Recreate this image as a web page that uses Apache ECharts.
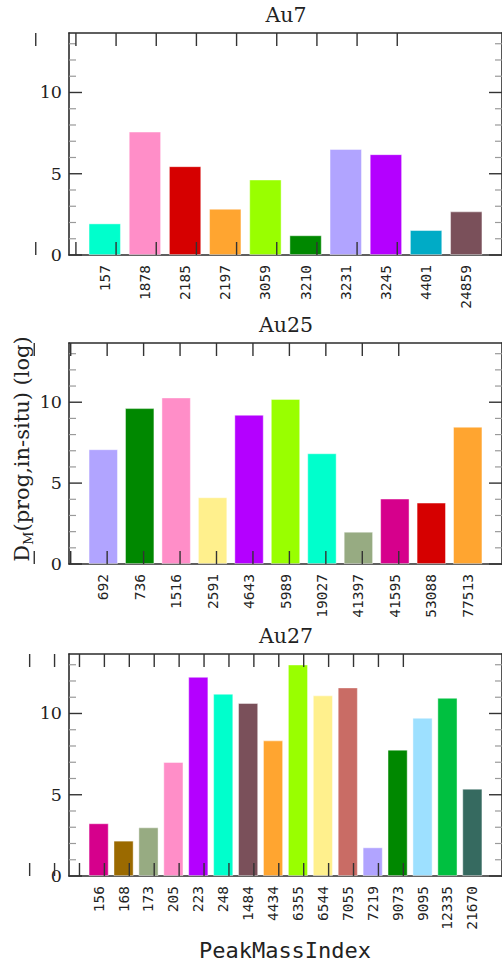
<!DOCTYPE html>
<html>
<head>
<meta charset="utf-8">
<script src="https://cdn.jsdelivr.net/npm/echarts@6/dist/echarts.min.js"></script>
<style>
html,body{margin:0;padding:0;background:#fff;}
#chart{width:502px;height:968px;}
</style>
</head>
<body>
<div id="chart"></div>
<script>
// ---- data ----
const panelTitles = ['Au7', 'Au25', 'Au27'];

const cats1 = ['157','1878','2185','2197','3059','3210','3231','3245','4401','24859'];
const vals1 = [1.94, 7.59, 5.46, 2.84, 4.64, 1.21, 6.52, 6.20, 1.53, 2.68];
const colors1 = ['#00ffcc','#ff8ec8','#d60000','#ffa530','#99ff00','#008800','#b1a4ff','#b400ff','#00abc6','#7a505a'];

const cats2 = ['692','736','1516','2591','4643','5989','19027','41397','41595','53088','77513'];
const vals2 = [7.09, 9.63, 10.29, 4.12, 9.22, 10.20, 6.84, 1.99, 4.04, 3.79, 8.48];
const colors2 = ['#b1a4ff','#008800','#ff8ec8','#fff08d','#b400ff','#99ff00','#00ffcc','#97ab82','#d6008c','#d60000','#ffa530'];

const cats3 = ['156','168','173','205','223','248','1484','4434','6355','6544','7055','7219','9073','9095','12335','21670'];
const vals3 = [3.24, 2.17, 2.99, 7.01, 12.25, 11.21, 10.64, 8.34, 13.01, 11.11, 11.60, 1.76, 7.77, 9.73, 10.96, 5.37];
const colors3 = ['#d6008c','#9b6a00','#97ab82','#ff8ec8','#b400ff','#00ffcc','#7a505a','#ffa530','#99ff00','#fff08d','#c96c65','#b1a4ff','#008800','#9de0ff','#00c040','#366a60'];

const yMajorTicks = [0, 5, 10];
const yMinorTicks = [1, 2, 3, 4, 6, 7, 8, 9, 11, 12, 13];
const xAxisTitle = 'PeakMassIndex';
const yAxisTitleMain = 'D';
const yAxisTitleSub = 'M';
const yAxisTitleRest = '(prog,in-situ) (log)';

// ---- layout ----
const panels = [
  {cats: cats1, vals: vals1, colors: colors1, top: 33, height: 222},
  {cats: cats2, vals: vals2, colors: colors2, top: 343, height: 221},
  {cats: cats3, vals: vals3, colors: colors3, top: 654, height: 222}
];
const gridLeft = 69, gridWidth = 434;
const allVals = vals1.concat(vals2, vals3);
const yMax = Math.max.apply(null, allVals) * 1.05;

const spine = {color: '#2b2b2b', width: 1.6};
const MAJOR_LEN = 13, MINOR_LEN = 7;
const majorStroke = '#333', minorStroke = '#9a9a9a';

const grid = [], xAxis = [], yAxis = [], series = [], texts = [];

panels.forEach((p, k) => {
  const n = p.cats.length;
  const pad = 0.05 * (n - 1 + 0.8);
  p.xmin = -0.4 - pad; p.xmax = n - 1 + 0.4 + pad;
  const unit = gridWidth / (p.xmax - p.xmin);
  const idx = p.cats.map((c, i) => i);
  grid.push({left: gridLeft, width: gridWidth, top: p.top, height: p.height, containLabel: false});

  p.xb = xAxis.length;
  xAxis.push({
    gridIndex: k, type: 'value', min: p.xmin, max: p.xmax, position: 'bottom',
    axisLine: {show: true, onZero: false, lineStyle: spine},
    axisTick: {show: false},
    axisLabel: {show: true, customValues: idx, formatter: v => p.cats[Math.round(v)], rotate: 90, margin: 10,
      fontFamily: 'DejaVu Sans Mono', fontSize: 14.5, color: '#222'},
    splitLine: {show: false}
  });
  xAxis.push({
    gridIndex: k, type: 'value', min: p.xmin, max: p.xmax, position: 'top',
    axisLine: {show: true, onZero: false, lineStyle: spine},
    axisTick: {show: false}, axisLabel: {show: false}, splitLine: {show: false}
  });

  p.yb = yAxis.length;
  yAxis.push({
    gridIndex: k, type: 'value', min: 0, max: yMax, position: 'left',
    axisLine: {show: true, onZero: false, lineStyle: spine},
    axisTick: {show: false},
    axisLabel: {show: true, customValues: yMajorTicks, margin: 7,
      fontFamily: 'DejaVu Serif', fontSize: 17.5, color: '#222'},
    splitLine: {show: false}
  });
  yAxis.push({
    gridIndex: k, type: 'value', min: 0, max: yMax, position: 'right',
    axisLine: {show: true, onZero: false, lineStyle: spine},
    axisTick: {show: false}, axisLabel: {show: false}, splitLine: {show: false}
  });

  series.push({
    type: 'bar', xAxisIndex: p.xb, yAxisIndex: p.yb,
    barWidth: 0.8 * unit,
    data: p.vals.map((v, i) => ({value: [i, v], itemStyle: {color: p.colors[i]}})),
    itemStyle: {borderColor: 'rgba(255,255,255,0.55)', borderWidth: 0.8},
    silent: true, animation: false, z: 2
  });

  texts.push({
    type: 'text', x: gridLeft + gridWidth / 2, y: p.top - 18,
    style: {text: panelTitles[k], fontFamily: 'DejaVu Serif', fontSize: 20.5, fill: '#222',
      align: 'center', verticalAlign: 'middle'}
  });
});

texts.push({
  type: 'text', x: 285, y: 950,
  style: {text: xAxisTitle, fontFamily: 'DejaVu Sans Mono', fontSize: 22, fill: '#222',
    align: 'center', verticalAlign: 'middle'}
});
texts.push({
  type: 'text', x: 22, y: 449, rotation: Math.PI / 2,
  style: {
    text: '{a|' + yAxisTitleMain + '}{b|' + yAxisTitleSub + '}{a|' + yAxisTitleRest + '}',
    rich: {
      a: {fontFamily: 'DejaVu Serif', fontSize: 21, fill: '#222', lineHeight: 26},
      b: {fontFamily: 'DejaVu Serif', fontSize: 13, fill: '#222', verticalAlign: 'bottom', lineHeight: 20}
    },
    align: 'center', verticalAlign: 'middle'
  }
});

const chart = echarts.init(document.getElementById('chart'), null, {renderer: 'svg'});
chart.setOption({
  animation: false,
  backgroundColor: '#fff',
  grid: grid, xAxis: xAxis, yAxis: yAxis, series: series
});

// ---- ticks: positioned through the axes' own scales ----
const tickGraphics = [];
function seg(a, b, stroke, lw) {
  return {type: 'line', z: 50,
    shape: {x1: a[0], y1: a[1], x2: b[0], y2: b[1]}, style: {stroke: stroke, lineWidth: lw}};
}
panels.forEach(p => {
  const finder = {xAxisIndex: p.xb, yAxisIndex: p.yb};
  const addY = (v, len, stroke, lw) => {
    const l = chart.convertToPixel(finder, [p.xmin, v]);
    const r = chart.convertToPixel(finder, [p.xmax, v]);
    tickGraphics.push(seg(l, [l[0] + len, l[1]], stroke, lw));
    tickGraphics.push(seg(r, [r[0] - len, r[1]], stroke, lw));
  };
  yMinorTicks.forEach(v => addY(v, MINOR_LEN, minorStroke, 1.2));
  yMajorTicks.forEach(v => addY(v, MAJOR_LEN, majorStroke, 1.4));
});
chart.setOption({graphic: {elements: texts.concat(tickGraphics)}});

// x ticks (bottom and top of each panel) at each category, via the x axis scale
const zr = chart.getZr();
panels.forEach(p => {
  let axis = null;
  try {
    axis = chart.getModel().getComponent('xAxis', p.xb).axis;
  } catch (e) { axis = null; }
  const yBottom = p.top + p.height, yTop = p.top;
  for (let i = 0; i < p.cats.length; i++) {
    let x;
    if (axis && axis.dataToCoord) {
      x = axis.dataToCoord(i);
      if (!isFinite(x)) x = null;
    }
    if (x == null) x = gridLeft + (i - p.xmin) / (p.xmax - p.xmin) * gridWidth;
    [[yBottom, yBottom - MAJOR_LEN], [yTop, yTop + MAJOR_LEN]].forEach(ys => {
      zr.add(new echarts.graphic.Line({
        shape: {x1: x, y1: ys[0], x2: x, y2: ys[1]},
        style: {stroke: majorStroke, lineWidth: 1.4},
        z: 100, zlevel: 0, silent: true
      }));
    });
  }
});
</script>
</body>
</html>
